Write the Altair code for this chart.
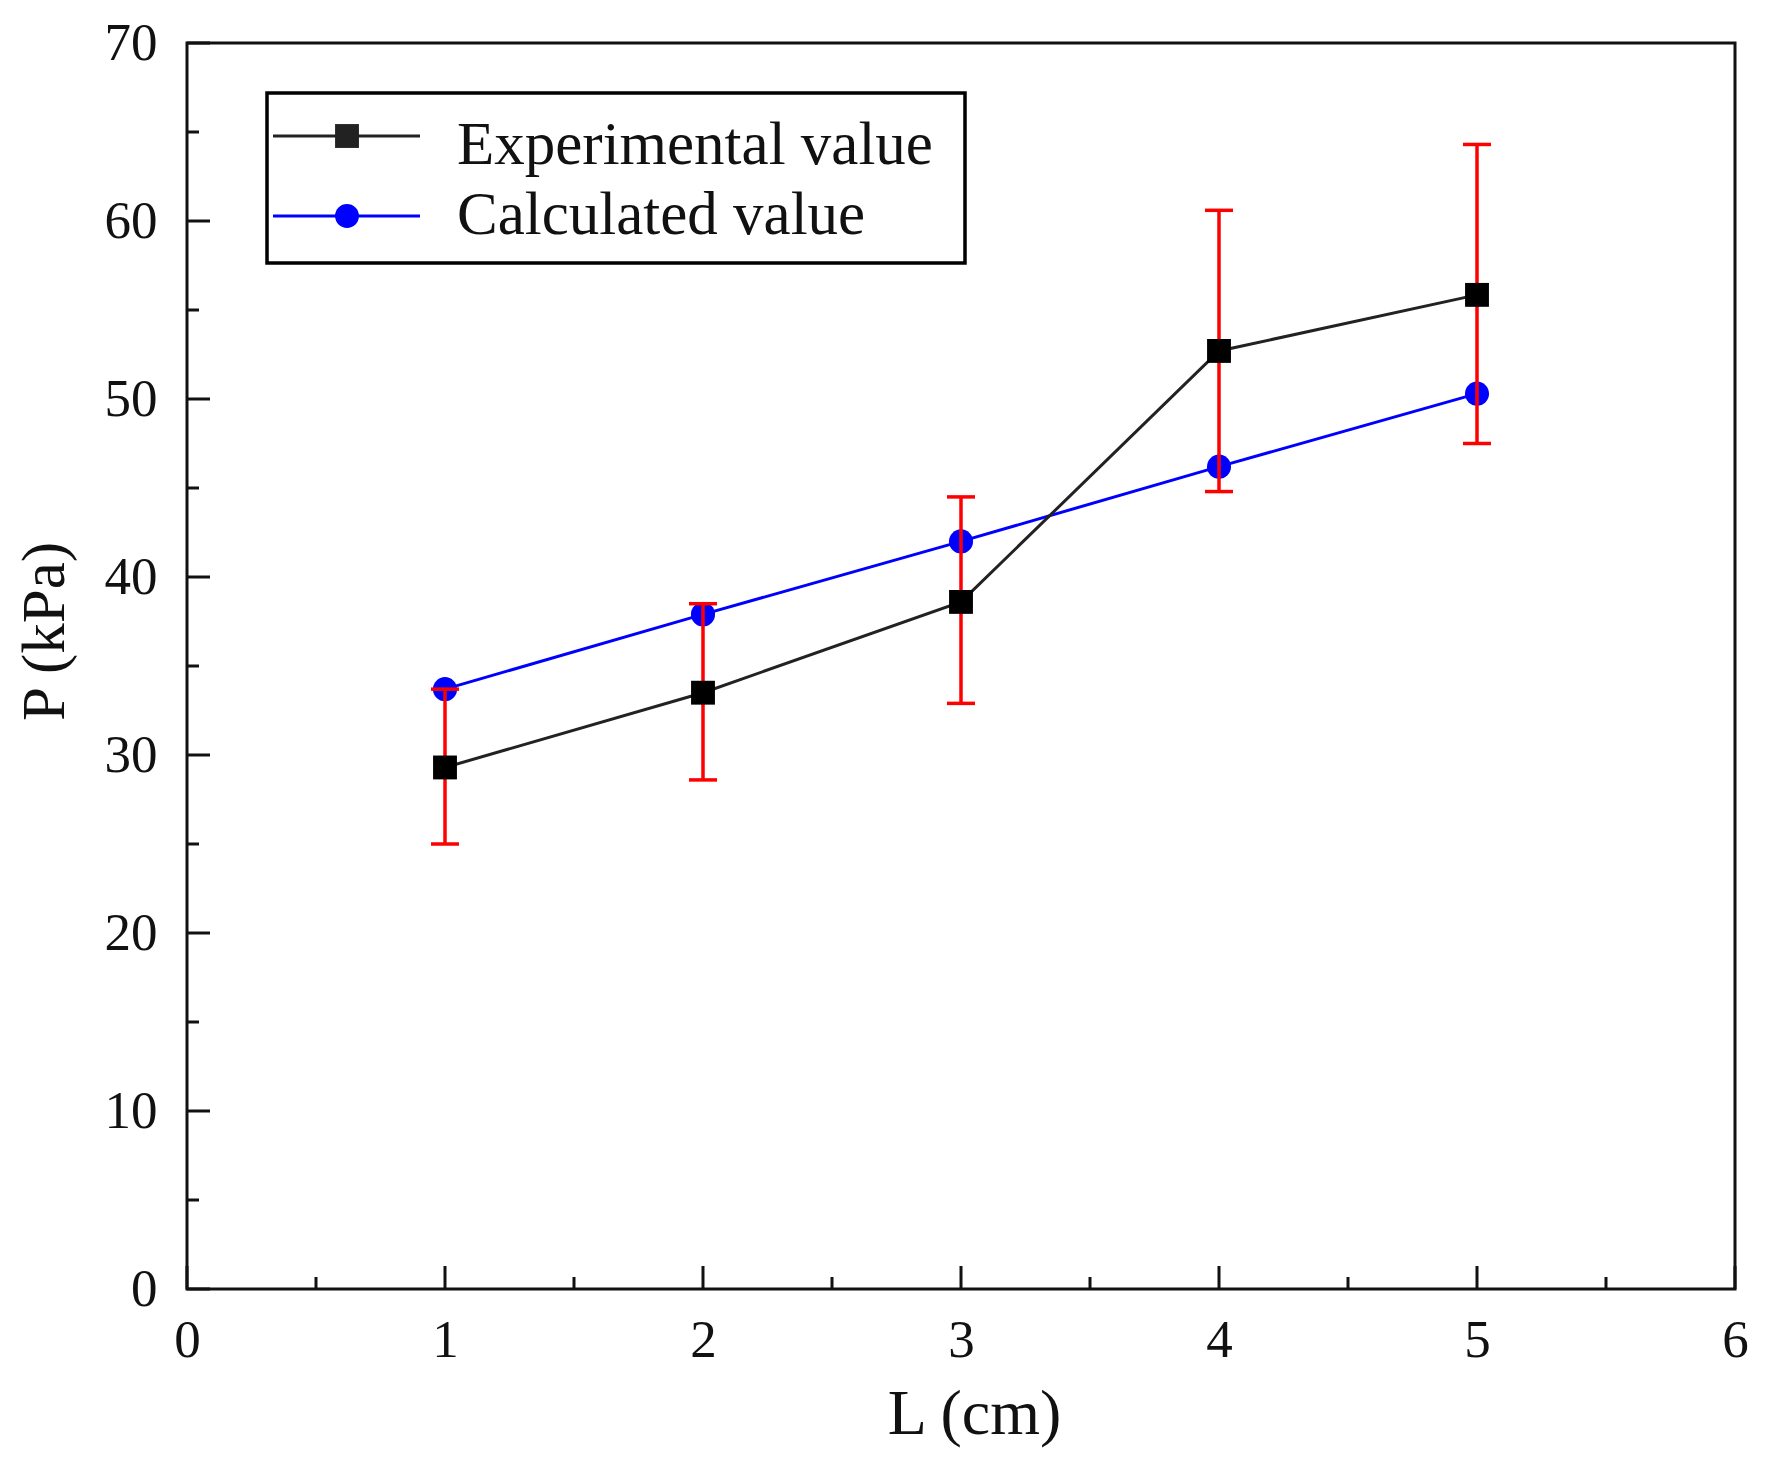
import altair as alt
import pandas as pd

# ---- data ----
L_values = [1, 2, 3, 4, 5]
experimental = [29.3, 33.5, 38.6, 52.7, 55.85]
exp_lower = [25.0, 28.6, 32.9, 44.8, 47.5]
exp_upper = [33.7, 38.5, 44.5, 60.6, 64.3]
calculated = [33.7, 37.9, 42.0, 46.2, 50.3]
series_names = ["Experimental value", "Calculated value"]

x_major = [0, 1, 2, 3, 4, 5, 6]
x_minor = [0.5, 1.5, 2.5, 3.5, 4.5, 5.5]
y_major = [0, 10, 20, 30, 40, 50, 60, 70]
y_minor = [5, 15, 25, 35, 45, 55, 65]

W, H = 1548, 1246
FONT = "Liberation Serif"

df = pd.DataFrame({"L": L_values, "exp": experimental, "lo": exp_lower,
                   "hi": exp_upper, "calc": calculated})
leg = pd.DataFrame({"series": series_names})

xs = alt.Scale(domain=[0, 6], nice=False, zero=False)
ys = alt.Scale(domain=[0, 70], nice=False, zero=False)

x_axis = alt.Axis(values=x_major, format="d", ticks=False, tickSize=0, domain=False,
                  grid=False, labelFont=FONT, labelFontSize=53, labelColor="#111",
                  labelPadding=25, labelBaseline="top", labelFlush=False,
                  labelOverlap=False,
                  title="L (cm)", titleFont=FONT, titleFontSize=64,
                  titleFontWeight="normal", titleColor="#111",
                  titleBaseline="alphabetic", titleY=144, titleX=W / 2 + 13)
y_axis = alt.Axis(values=y_major, format="d", ticks=False, tickSize=0, domain=False,
                  grid=False, labelFont=FONT, labelFontSize=53, labelColor="#111",
                  labelPadding=30, labelFlush=False, labelOverlap=False,
                  title="P (kPa)", titleFont=FONT, titleFontSize=61,
                  titleFontWeight="normal", titleColor="#111",
                  titleAngle=270, titleBaseline="alphabetic", titleX=-124, titleY=588)


def X(field):
    return alt.X(field, scale=xs, axis=x_axis)


def Y(field):
    return alt.Y(field, scale=ys, axis=y_axis)


base = alt.Chart(df)

calc_line = base.mark_line(color="#0000ff", strokeWidth=3).encode(
    x=X("L:Q"), y=Y("calc:Q"))
calc_pts = base.mark_point(shape="circle", filled=True, color="#0000ff",
                           size=580, opacity=1).encode(x=X("L:Q"), y=Y("calc:Q"))
err_rule = base.mark_rule(color="#ff0000", strokeWidth=3.5).encode(
    x=X("L:Q"), y=Y("lo:Q"), y2="hi:Q")
cap_lo = base.mark_tick(color="#ff0000", orient="horizontal", size=28,
                        thickness=3.5, opacity=1).encode(x=X("L:Q"), y=Y("lo:Q"))
cap_hi = base.mark_tick(color="#ff0000", orient="horizontal", size=28,
                        thickness=3.5, opacity=1).encode(x=X("L:Q"), y=Y("hi:Q"))
exp_line = base.mark_line(color="#222222", strokeWidth=3).encode(
    x=X("L:Q"), y=Y("exp:Q"))
exp_pts = base.mark_point(shape="square", filled=True, color="#000000",
                          size=570, opacity=1).encode(x=X("L:Q"), y=Y("exp:Q"))


# inward axis ticks
def yticks(vals, length):
    return alt.Chart(pd.DataFrame({"v": vals})).mark_rule(
        color="#111", strokeWidth=3).encode(
        y=Y("v:Q"), x=alt.value(0), x2=alt.value(length))


def xticks(vals, length):
    return alt.Chart(pd.DataFrame({"v": vals})).mark_rule(
        color="#111", strokeWidth=3).encode(
        x=X("v:Q"), y=alt.value(H), y2=alt.value(H - length))


ticks = [yticks(y_major, 23), yticks(y_minor, 12),
         xticks(x_major, 23), xticks(x_minor, 12)]

# legend
legbase = alt.Chart(leg)
leg_box = legbase.transform_filter(alt.datum.series == series_names[0]).mark_rect(
    fill="white", stroke="#000", strokeWidth=3.5).encode(
    x=alt.value(80), x2=alt.value(778), y=alt.value(50), y2=alt.value(220))


def leg_row(name, color, shape, ly, ty, lw):
    src = legbase.transform_filter(alt.datum.series == name)
    ln = src.mark_rule(color=color, strokeWidth=lw).encode(
        x=alt.value(86), x2=alt.value(233), y=alt.value(ly))
    pt = src.mark_point(shape=shape, filled=True, color=color, size=570,
                        opacity=1).encode(x=alt.value(160), y=alt.value(ly))
    tx = src.mark_text(align="left", baseline="alphabetic", font=FONT,
                       fontSize=61, color="#111").encode(
        x=alt.value(270), y=alt.value(ty), text="series:N")
    return [ln, pt, tx]


legend_layers = [leg_box] + \
    leg_row(series_names[0], "#222222", "square", 93, 121, 3) + \
    leg_row(series_names[1], "#0000ff", "circle", 173, 191, 3)

chart = alt.layer(
    calc_line, *ticks, calc_pts, err_rule, cap_lo, cap_hi, exp_line, exp_pts,
    *legend_layers
).properties(
    width=W, height=H,
    autosize=alt.AutoSizeParams(type="none"),
    padding={"left": 179, "top": 35, "right": 23, "bottom": 168},
    background="white",
).configure_view(stroke="#111", strokeWidth=3)

chart.save("out.html", embed_options={"renderer": "svg", "actions": False})
